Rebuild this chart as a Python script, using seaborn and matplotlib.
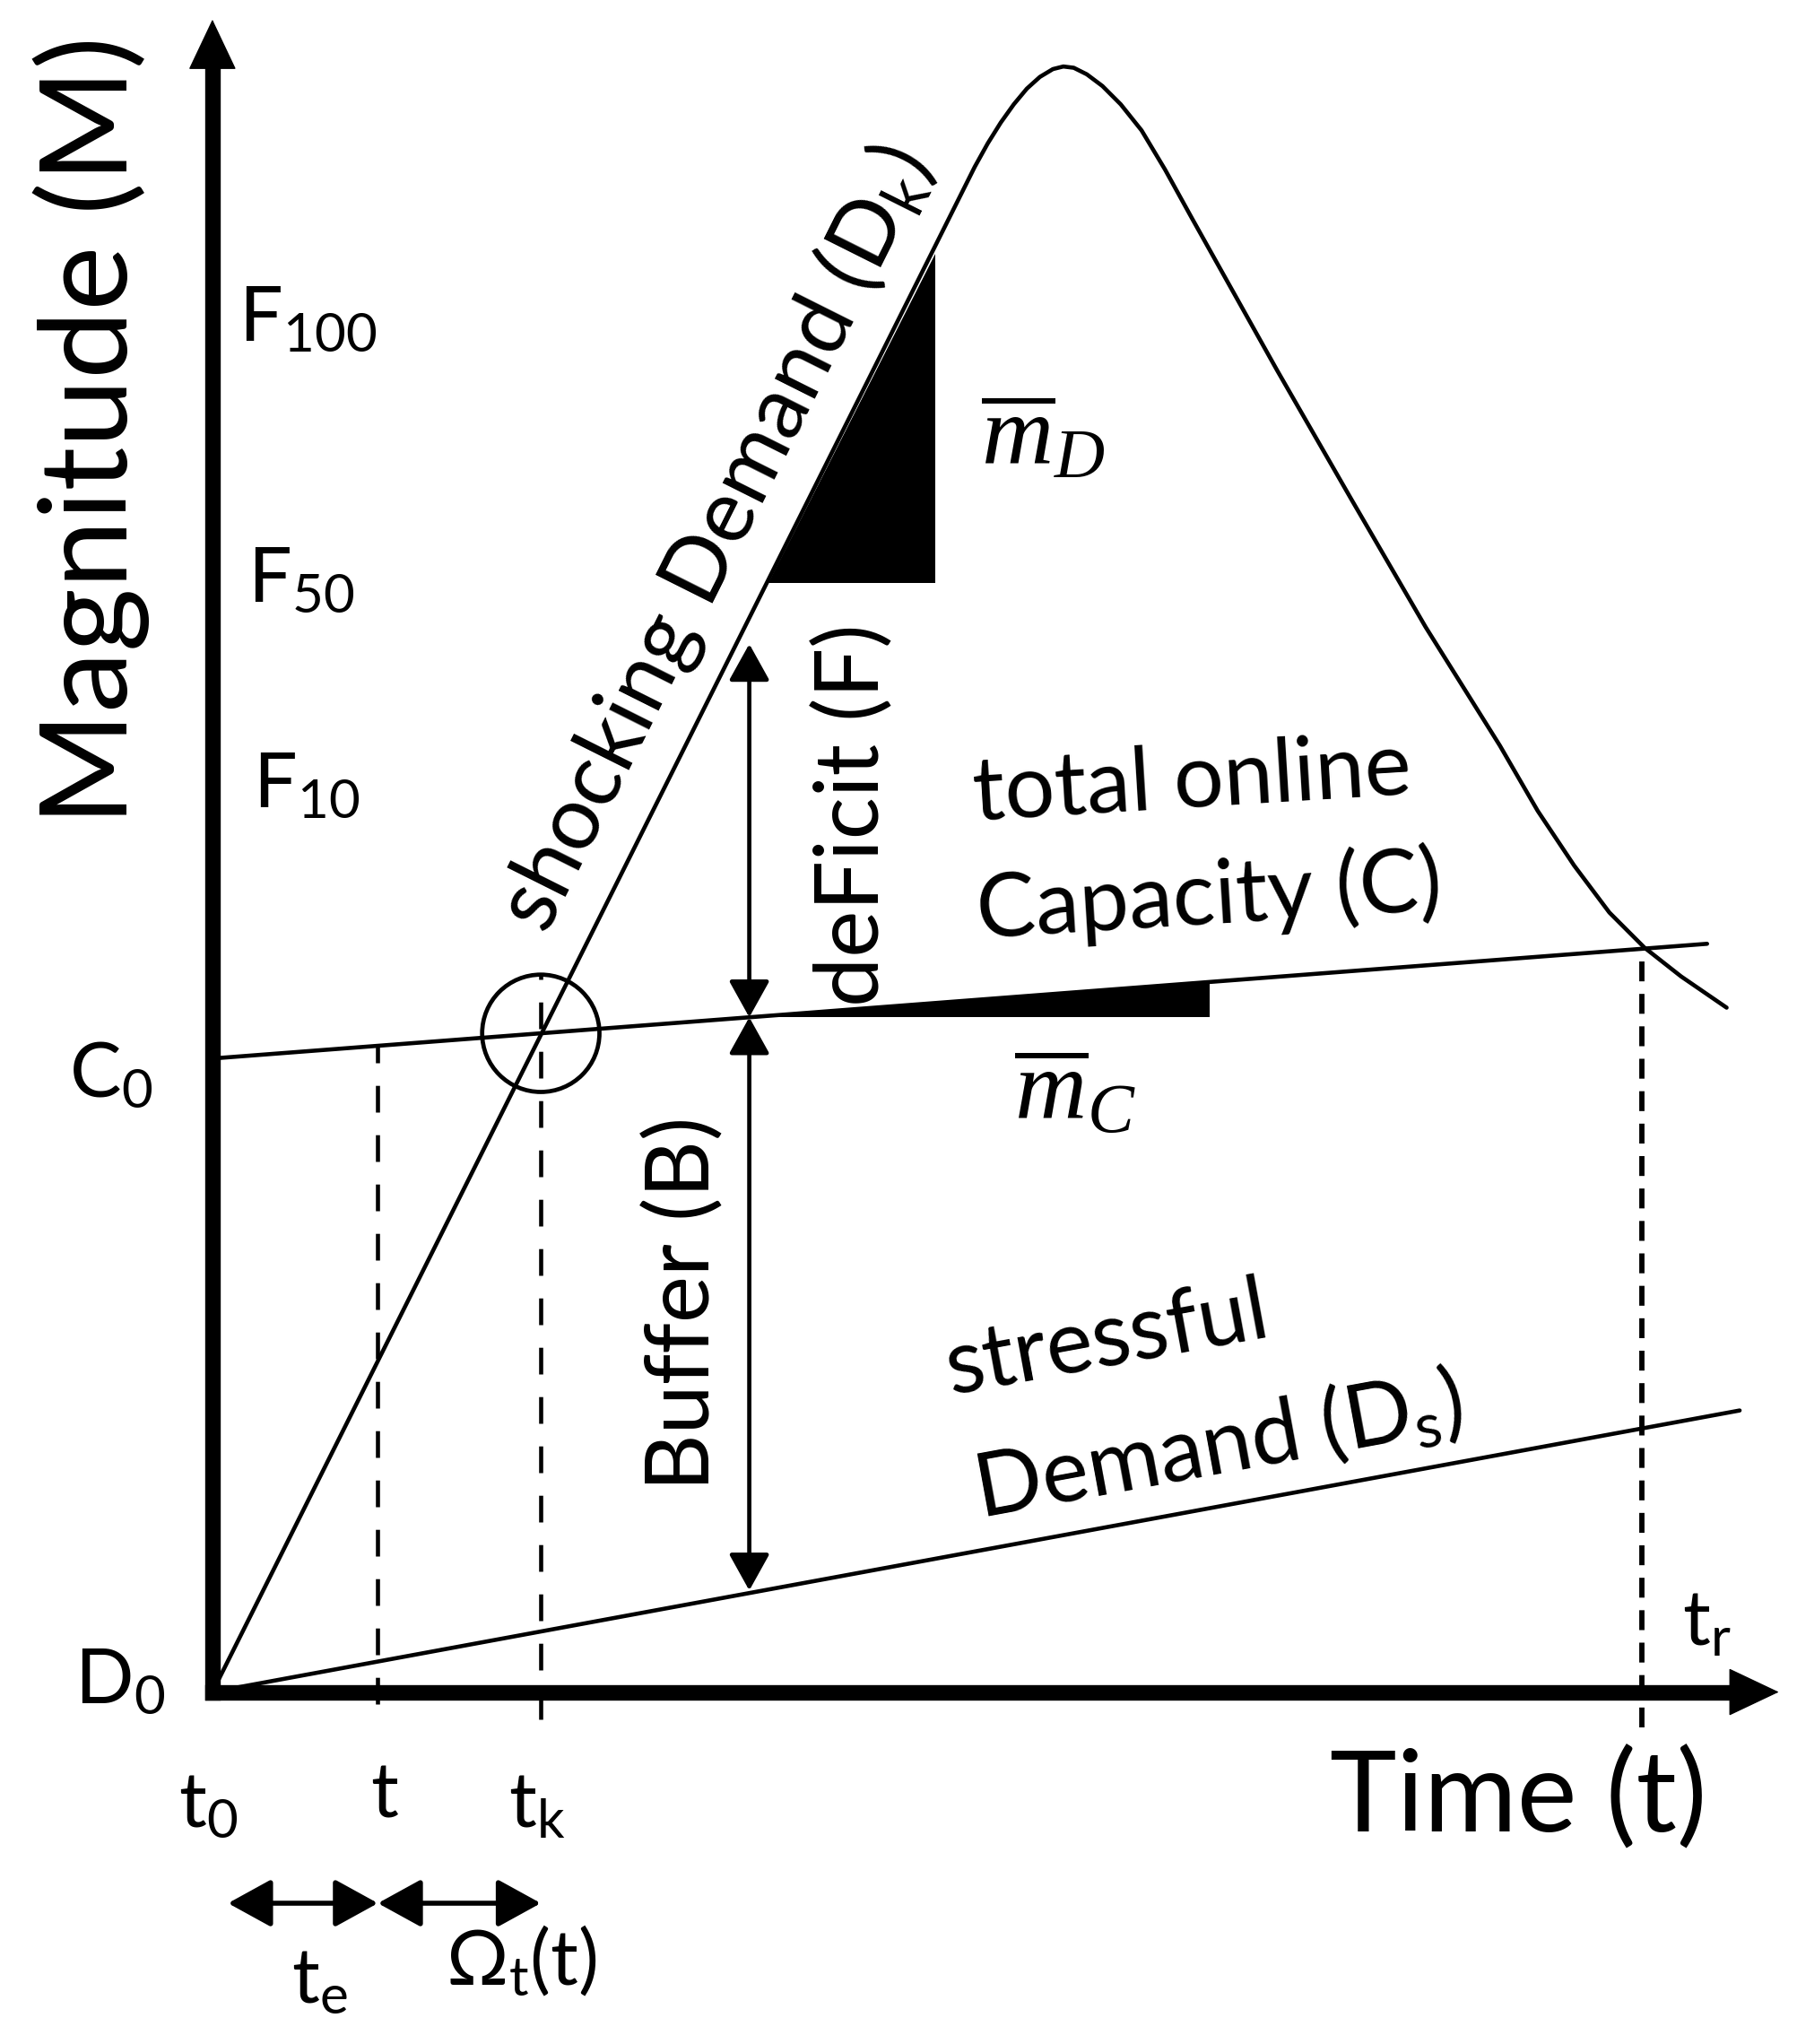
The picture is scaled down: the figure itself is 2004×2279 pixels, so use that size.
import numpy as np
import matplotlib
matplotlib.use("Agg")
import matplotlib.pyplot as plt
from matplotlib.patches import Circle
import seaborn as sns

# shocking demand D_k (time, magnitude)
shock_time = [0.00, 5.85, 5.95, 6.05, 6.15, 6.25, 6.35, 6.45, 6.53, 6.61, 6.71,
              6.83, 6.97, 7.13, 7.31, 7.52, 8.17, 8.74, 9.31, 9.88, 10.17,
              10.45, 10.72, 10.99, 11.27, 11.62]
shock_mag = [0.00, 11.70, 11.88, 12.04, 12.18, 12.30, 12.39, 12.45, 12.47, 12.46, 12.41,
             12.32, 12.18, 11.98, 11.68, 11.30, 10.14, 9.15, 8.17, 7.26, 6.76,
             6.34, 5.98, 5.71, 5.49, 5.25]

# total online capacity C and stressful demand D_s
cap_time = [0.00, 11.47]
cap_mag = [4.86, 5.74]
stress_time = [0.00, 11.72]
stress_mag = [0.00, 2.16]

# marked instants
t_now = 1.27
t_k = 2.52
t_r = 10.97
t_start = 0.12      # left end of the t_e span
t_arrow = 4.12      # where deficit / buffer are measured
t_wedge = 7.65      # right edge of capacity slope wedge

# slope triangle under D_k
mD_tri_time = [4.27, 5.55, 5.55]
mD_tri_mag = [8.51, 8.51, 11.03]

axis_t_end = 12.02
axis_m_end = 12.83
span_level = -1.62

sns.set_style("white")
plt.rcParams['font.family'] = ['Lato', 'DejaVu Sans']
plt.rcParams['text.color'] = 'black'
plt.rcParams['mathtext.fontset'] = 'custom'
plt.rcParams['mathtext.rm'] = 'Lato'
plt.rcParams['mathtext.it'] = 'Liberation Serif:italic'
plt.rcParams['mathtext.bf'] = 'Lato:bold'

fig = plt.figure(figsize=(20.04, 22.79), dpi=100)
ax = fig.add_axes([0, 0, 1, 1])
ax.set_xlim(-1.63, 12.16)
ax.set_ylim(-2.70, 12.98)
ax.axis('off')

LW = 3.3
# curves
sns.lineplot(x=shock_time, y=shock_mag, ax=ax, color='k', lw=LW)
sns.lineplot(x=cap_time, y=cap_mag, ax=ax, color='k', lw=LW)
sns.lineplot(x=stress_time, y=stress_mag, ax=ax, color='k', lw=LW)

def cap_at(t):
    return np.interp(t, cap_time, cap_mag)

def shock_at(t):
    return np.interp(t, shock_time, shock_mag)

def stress_at(t):
    return np.interp(t, stress_time, stress_mag)

# axes with arrows
ax.plot([0, axis_t_end - 0.3], [0, 0], color='k', lw=12.5, solid_capstyle='projecting')
ax.plot([0, 0], [0, axis_m_end - 0.3], color='k', lw=12.5, solid_capstyle='projecting')
head = dict(arrowstyle='-|>,head_length=0.95,head_width=0.45', mutation_scale=40,
            lw=1, color='k', shrinkA=0, shrinkB=0)
ax.annotate('', xy=(axis_t_end, 0), xytext=(axis_t_end - 0.6, 0), arrowprops=head)
ax.annotate('', xy=(0, axis_m_end), xytext=(0, axis_m_end - 0.6), arrowprops=head)

# dashed drop lines
ax.plot([t_now, t_now], [-0.09, cap_at(t_now)], color='k', lw=LW, ls=(0, (6.5, 5.5)))
ax.plot([t_k, t_k], [-0.21, cap_at(t_k) + 0.45], color='k', lw=LW, ls=(0, (6.5, 5.5)))
ax.plot([t_r, t_r], [-0.27, cap_at(t_r)], color='k', lw=4.2, ls=(0, (3.8, 2.4)))

# circle at crossing of D_k and C
ax.add_patch(Circle((t_k, cap_at(t_k)), 0.45, fill=False, lw=3.4, color='k'))

# slope marks
ax.fill(mD_tri_time, mD_tri_mag, color='k', lw=0)
ax.fill([t_arrow, t_wedge, t_wedge], [cap_at(t_arrow), cap_at(t_arrow), cap_at(t_wedge)],
        color='k', lw=0)

# deficit and buffer arrows
dbl = dict(arrowstyle='<|-|>,head_length=0.9,head_width=0.5', mutation_scale=28,
           lw=3.4, color='k', shrinkA=0, shrinkB=0)
ax.annotate('', xy=(t_arrow, shock_at(t_arrow) - 0.2), xytext=(t_arrow, cap_at(t_arrow)),
            arrowprops=dbl)
ax.annotate('', xy=(t_arrow, stress_at(t_arrow) + 0.02), xytext=(t_arrow, cap_at(t_arrow)),
            arrowprops=dbl)

# time spans below the axis
span = dict(arrowstyle='<|-|>,head_length=1.0,head_width=0.55', mutation_scale=30,
            lw=4, color='k', shrinkA=0, shrinkB=0)
ax.annotate('', xy=(t_start, span_level), xytext=(t_now, span_level), arrowprops=span)
ax.annotate('', xy=(t_now, span_level), xytext=(t_k, span_level), arrowprops=span)

# labels
mid, small = 71, 62
ax.text(-0.93, 9.68, 'Magnitude (M)', rotation=90, fontsize=98, ha='center', va='center')
ax.text(10.02, -0.82, 'Time (t)', fontsize=91, ha='center', va='center')

ax.text(0.73, 10.53, r'F$_{\mathrm{100}}$', fontsize=small, ha='center', va='center')
ax.text(0.68, 8.53, r'F$_{\mathrm{50}}$', fontsize=small, ha='center', va='center')
ax.text(0.72, 6.95, r'F$_{\mathrm{10}}$', fontsize=small, ha='center', va='center')
ax.text(-0.78, 4.73, r'C$_{\mathrm{0}}$', fontsize=small, ha='center', va='center')
ax.text(-0.71, 0.08, r'D$_{\mathrm{0}}$', fontsize=small, ha='center', va='center')

ax.text(-0.03, -0.87, r't$_{\mathrm{0}}$', fontsize=small, ha='center', va='center')
ax.text(1.32, -0.80, 't', fontsize=small, ha='center', va='center')
ax.text(2.49, -0.87, r't$_{\mathrm{k}}$', fontsize=small, ha='center', va='center')
ax.text(11.47, 0.53, r't$_{\mathrm{r}}$', fontsize=small, ha='center', va='center')
ax.text(0.82, -2.22, r't$_{\mathrm{e}}$', fontsize=small, ha='center', va='center')
ax.text(2.37, -2.07, r'Ω$_{\mathrm{t}}$(t)', fontsize=small, ha='center', va='center')

ax.text(3.86, 8.85, r'shocking Demand (D$_{\mathrm{k}}$)', rotation=63.4, fontsize=mid,
        ha='center', va='center', rotation_mode='anchor')
ax.text(4.92, 6.73, 'deFicit (F)', rotation=90, fontsize=mid, ha='center', va='center')
ax.text(3.62, 2.98, 'Buffer (B)', rotation=90, fontsize=mid, ha='center', va='center')
ax.text(7.52, 6.98, 'total online', rotation=3.5, fontsize=mid, ha='center', va='center',
        rotation_mode='anchor')
ax.text(7.65, 6.10, 'Capacity (C)', rotation=3.5, fontsize=mid, ha='center', va='center',
        rotation_mode='anchor')
ax.text(6.87, 2.70, 'stressful', rotation=10.4, fontsize=mid, ha='center', va='center',
        rotation_mode='anchor')
ax.text(7.72, 1.88, r'Demand (D$_{\mathrm{s}}$)', rotation=10.4, fontsize=mid, ha='center',
        va='center', rotation_mode='anchor')

ax.text(6.37, 9.63, r'$\overline{m}_D$', fontsize=80, ha='center', va='center')
ax.text(6.62, 4.60, r'$\overline{m}_C$', fontsize=80, ha='center', va='center')

fig.savefig('out.png', dpi=100)
